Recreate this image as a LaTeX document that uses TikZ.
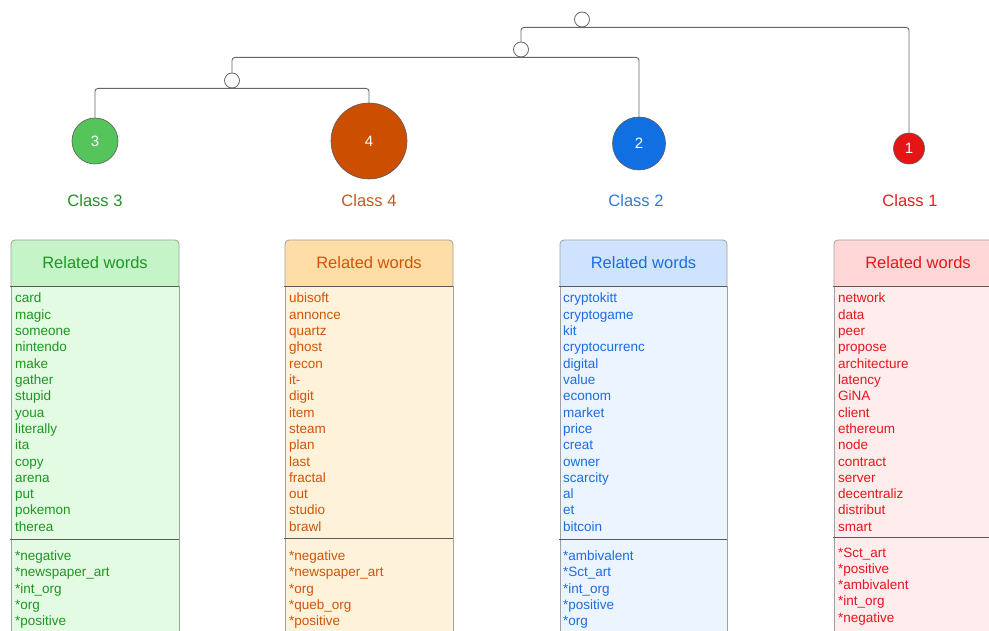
\documentclass[tikz,border=0pt]{standalone}
\usepackage{fontspec}
\setmainfont{Liberation Sans}
\definecolor{lineg}{HTML}{666666}
\definecolor{boxgray}{HTML}{A0A0A0}
\definecolor{sepgray}{HTML}{5A5A5A}
\definecolor{gT}{HTML}{1E9623}\definecolor{gH}{HTML}{C4F4C8}\definecolor{gB}{HTML}{E3FAE3}\definecolor{gC}{HTML}{55C45A}\definecolor{gL}{HTML}{239024}
\definecolor{oT}{HTML}{D05508}\definecolor{oH}{HTML}{FFDDA6}\definecolor{oB}{HTML}{FFF2DA}\definecolor{oC}{HTML}{CC4E00}\definecolor{oL}{HTML}{C9571A}
\definecolor{bT}{HTML}{1A6EE0}\definecolor{bH}{HTML}{CFE3FF}\definecolor{bB}{HTML}{EBF4FF}\definecolor{bC}{HTML}{1070E2}\definecolor{bL}{HTML}{2C7CD6}
\definecolor{rT}{HTML}{E5171C}\definecolor{rH}{HTML}{FFD7D7}\definecolor{rB}{HTML}{FFEDED}\definecolor{rC}{HTML}{E51515}\definecolor{rL}{HTML}{E01E22}
\tikzset{
  x=1pt,y=-1pt,
  knot/.style={circle,draw=lineg,fill=white,line width=0.8pt,minimum size=15pt,inner sep=0pt},
  leaf/.style={circle,draw=sepgray,line width=0.6pt,inner sep=0pt,text=white,font=\fontsize{15}{15}\selectfont},
  tree/.style={draw=lineg,line width=0.9pt,rounded corners=3pt},
  classlbl/.style={font=\fontsize{16.5}{18}\selectfont,inner sep=0pt},
  headlbl/.style={font=\fontsize{16.5}{18}\selectfont,inner sep=0pt},
  word/.style={font=\fontsize{13.5}{15}\selectfont,inner sep=0pt,anchor=base west},
}
% #1 left x, #2 right x, #3 head fill, #4 body fill, #5 separator y, #6 text colour,
% #7 name, #8 text x, #9 words
\newcommand\wbox[9]{%
  \fill[#4] (#1,286) rectangle (#2,650);
  \filldraw[fill=#3,draw=boxgray,line width=0.8pt,rounded corners=4pt] (#1,286) -- (#1,240) -- (#2,240) -- (#2,286);
  \draw[boxgray,line width=0.8pt] (#1,286) -- (#1,650) (#2,286) -- (#2,650);
  \draw[sepgray,line width=0.9pt] (#1-1,286) -- (#2,286) (#1-1,#5) -- (#2,#5);
  \node[headlbl,text=#6] (#7h) at ({(#1+#2)/2},262.5) {Related words};
  \foreach \w [count=\i from 0] in {#9} \node[word,text=#6] (#7w\i) at (#8,303+\i*16.3) {\w};
}
\newcommand\wtags[5]{% #1 text colour, #2 name, #3 x, #4 first baseline, #5 tags
  \foreach \w [count=\i from 0] in {#5} \node[word,text=#1] (#2t\i) at (#3,#4+\i*16.3) {\w};
}
\begin{document}
\begin{tikzpicture}
\useasboundingbox (0,0) rectangle (989,631);
\clip (0,0) rectangle (989,631);
\fill[white] (0,0) rectangle (989,631);
% leaves
\node[leaf,fill=gC,minimum size=46pt] (c3) at (95,141) {3};
\node[leaf,fill=oC,minimum size=76pt] (c4) at (369,141) {4};
\node[leaf,fill=bC,minimum size=53pt] (c2) at (639,143.5) {2};
\node[leaf,fill=rC,minimum size=31pt] (c1) at (909,148.5) {1};
% inner knots
\node[knot] (k3) at (232,80.5) {};
\node[knot] (k2) at (521,49.5) {};
\node[knot] (k1) at (582,19.5) {};
% tree connectors
\draw[tree] (c3.north) |- (c4.north |- k3.south) -- (c4.north);
\draw[tree] (k3.north) |- (c2.north |- k2.south) -- (c2.north);
\draw[tree] (k2.north) |- (c1.north |- k1.south) -- (c1.north);
% class labels
\node[classlbl,text=gL] (l3) at (95,201) {Class 3};
\node[classlbl,text=oL] (l4) at (369,201) {Class 4};
\node[classlbl,text=bL] (l2) at (636,201) {Class 2};
\node[classlbl,text=rL] (l1) at (910,201) {Class 1};
% boxes
\wbox{11}{179}{gH}{gB}{539}{gT}{g}{15}{card,magic,someone,nintendo,make,gather,stupid,youa,literally,ita,copy,arena,put,pokemon,therea}
\wtags{gT}{g}{15}{560.5}{*negative,*newspaper\_art,*int\_org,*org,*positive}
\wbox{285}{453}{oH}{oB}{538.5}{oT}{o}{289}{ubisoft,annonce,quartz,ghost,recon,it-,digit,item,steam,plan,last,fractal,out,studio,brawl}
\wtags{oT}{o}{289}{560.5}{*negative,*newspaper\_art,*org,*queb\_org,*positive}
\wbox{560}{727}{bH}{bB}{539}{bT}{b}{563}{cryptokitt,cryptogame,kit,cryptocurrenc,digital,value,econom,market,price,creat,owner,scarcity,al,et,bitcoin}
\wtags{bT}{b}{563}{560.5}{*ambivalent,*Sct\_art,*int\_org,*positive,*org}
\wbox{834}{1002}{rH}{rB}{537.5}{rT}{r}{838}{network,data,peer,propose,architecture,latency,GiNA,client,ethereum,node,contract,server,decentraliz,distribut,smart}
\wtags{rT}{r}{838}{557}{*Sct\_art,*positive,*ambivalent,*int\_org,*negative}
\end{tikzpicture}
\end{document}
